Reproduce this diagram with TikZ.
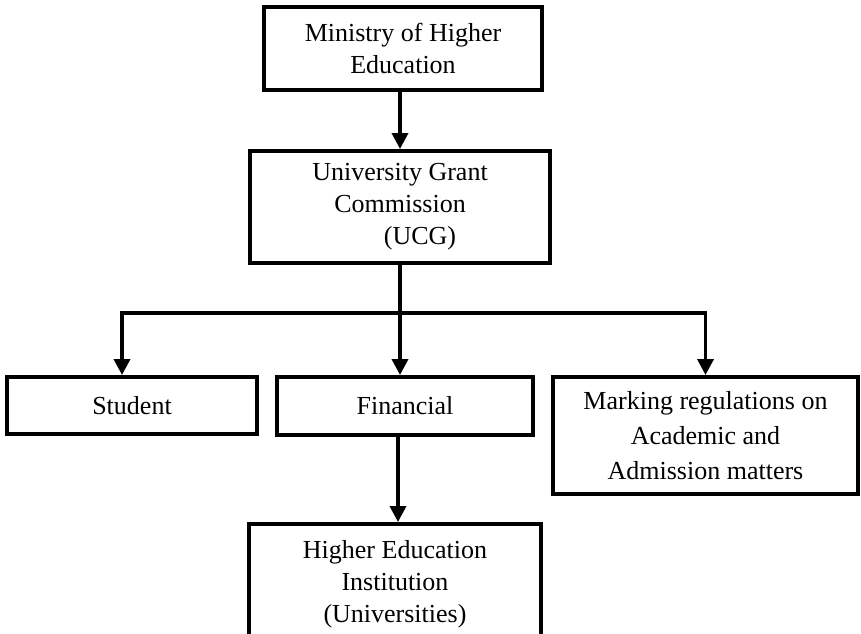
\documentclass[tikz,border=0pt]{standalone}
\usepackage{fontspec}
\setmainfont{Liberation Serif}
\usetikzlibrary{arrows.meta}

\begin{document}
\begin{tikzpicture}[x=1pt,y=-1pt,
    box/.style={draw,line width=4pt,align=center,inner sep=0pt,
      font=\fontsize{26}{32}\selectfont},
    arr/.style={line width=3.6pt,-{Triangle[width=16pt,length=16pt]}}]
  \clip (0,0) rectangle (861,633);
  \node[box,minimum width=278pt,minimum height=83pt] (ministry) at (403,48.5)
    {Ministry of Higher\\Education};
  \node[box,minimum width=300pt,minimum height=112pt] (ugc) at (400,207)
    {University Grant\\Commission\\\hspace*{40pt}(UCG)};
  \node[box,minimum width=250pt,minimum height=57pt] (student) at (132,405.5)
    {Student};
  \node[box,minimum width=256pt,minimum height=58pt] (financial) at (405,406)
    {Financial};
  \node[box,minimum width=305pt,minimum height=117pt,
    font=\fontsize{26}{35}\selectfont] (marking) at (705.5,435.5)
    {Marking regulations on\\Academic and\\Admission matters};
  \node[box,minimum width=292pt,minimum height=120pt] (hei) at (395,584)
    {Higher Education\\Institution\\(Universities)};
  \coordinate (split) at (400,313);

  \draw[arr] (ugc.north |- ministry.south) -- (ugc.north);
  \draw[arr] (ugc.south) -- (ugc.south |- financial.north);
  \draw[arr] (split) -| ([xshift=-10pt]student.north);
  \draw[arr] (split) -| (marking.north);
  \draw[arr] ([xshift=3pt]hei.north |- financial.south) -- ([xshift=3pt]hei.north);
\end{tikzpicture}
\end{document}
